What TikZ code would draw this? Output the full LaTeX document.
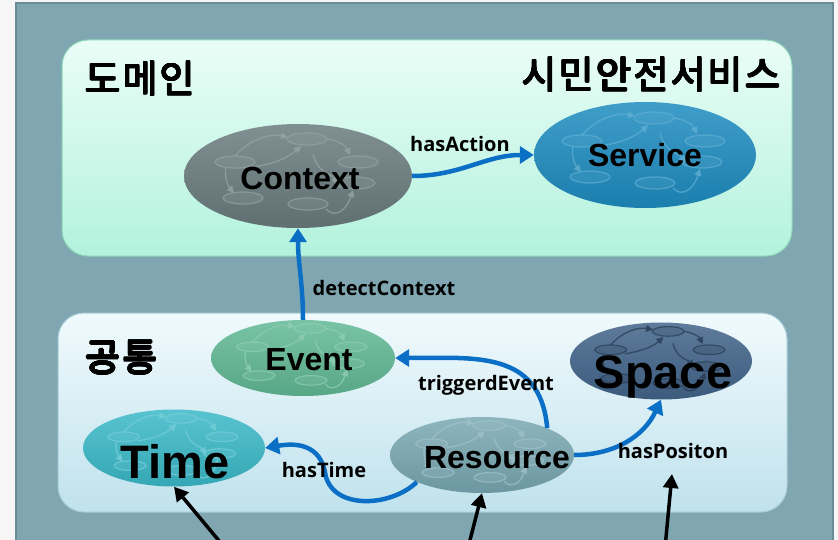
\documentclass[tikz,border=0pt]{standalone}
\usepackage{fontspec}
\usepackage{contour}
\setmainfont{Liberation Sans}
\newfontfamily\kofont{Noto Sans CJK KR}[LetterSpace=6]
\newfontfamily\relfont{Open Sans}
\contourlength{0.65pt}
\usetikzlibrary{positioning, arrows.meta, shapes.geometric, calc}
\definecolor{framecol}{HTML}{80A7B1}
\definecolor{frameline}{HTML}{678C95}
\definecolor{domtop}{HTML}{EAFDF7}
\definecolor{dombot}{HTML}{B3F2DD}
\definecolor{domline}{HTML}{8AD4B8}
\definecolor{comtop}{HTML}{F0FAFD}
\definecolor{combot}{HTML}{C0E2EC}
\definecolor{comline}{HTML}{A8CDD8}
\definecolor{linkblue}{HTML}{0B6FC6}
\definecolor{ctxcol}{HTML}{6A7C7E}
\definecolor{svccol}{HTML}{1E8CC0}
\definecolor{evtcol}{HTML}{61B995}
\definecolor{spccol}{HTML}{42648A}
\definecolor{timcol}{HTML}{3BB9C8}
\definecolor{rescol}{HTML}{79A8B2}

\tikzset{
  web/.pic={
    % small graph drawn inside each class
    \foreach \x/\y in {9/-37, -63/-14, 60/-14, -55/22, 10/28, 57/7}
      \draw[draw=#1, fill=#1, draw opacity=0.7, fill opacity=0.2, line width=1.2pt] (\x,\y) ellipse [x radius=20, y radius=6];
    \begin{scope}[draw=#1, fill=#1, opacity=0.7, line width=1.4pt, -{Triangle[length=7pt,width=7pt]}]
      \draw (-63,-20) .. controls (-45,-40) and (-25,-42) .. (-10,-39);
      \draw (28,-37) .. controls (40,-36) and (48,-30) .. (52,-21);
      \draw (-45,-9) .. controls (-25,-12) and (-10,-18) .. (3,-30);
      \draw (-72,-8) .. controls (-74,0) and (-70,10) .. (-64,17);
      \draw (28,33) .. controls (36,42) and (48,36) .. (55,14);
      \draw (15,-22) .. controls (20,-2) and (34,-2) .. (40,8);
    \end{scope}
  }
}

\begin{document}
\begin{tikzpicture}[x=1pt, y=-1pt, >=Triangle,
  cls/.style={ellipse, inner sep=0pt, draw=none},
  clstext/.style={anchor=base, font=\bfseries\fontsize{32}{32}\selectfont},
  bigtext/.style={anchor=base, font=\bfseries\fontsize{47}{47}\selectfont},
  rel/.style={font=\relfont\bfseries\fontsize{20}{20}\selectfont},
  title/.style={font=\kofont\fontsize{38}{38}\selectfont},
  conn/.style={line width=4.5pt, draw=linkblue, -{Triangle[length=14pt,width=17pt]}},
  feed/.style={line width=3.5pt, draw=black, -{Triangle[length=14pt,width=15pt]}}]

\useasboundingbox (0,0) rectangle (838,540);

% Fond
\fill[gray!7] (0,0) rectangle (838,540);
\fill[framecol, draw=frameline, line width=2pt] (16,3) rectangle (833,560);

% Domaine
\shade[top color=domtop, bottom color=dombot, rounded corners=26pt] (62,40) rectangle (792,256);
\draw[domline, line width=1pt, rounded corners=26pt] (62,40) rectangle (792,256);
\node[title, anchor=west] (domtitle) at (82,79) {\contour{black}{도메인}};
\node[title, anchor=east] (svctitle) at (784,75) {\contour{black}{시민안전서비스}};

% Commun
\shade[top color=comtop, bottom color=combot, rounded corners=26pt] (58,313) rectangle (787,512);
\draw[comline, line width=1pt, rounded corners=26pt] (58,313) rectangle (787,512);
\node[title, anchor=west] (comtitle) at (82,358) {\contour{black}{공통}};

% Classes
\node[cls, minimum width=228pt, minimum height=104pt, top color=ctxcol!85!white, bottom color=ctxcol!90!black] (ctx) at (298,176) {};
\node[cls, minimum width=222pt, minimum height=106pt, top color=svccol!85!white, bottom color=svccol!90!black] (svc) at (645,155) {};
\node[cls, minimum width=184pt, minimum height=76pt, top color=evtcol!85!white, bottom color=evtcol!90!black] (evt) at (303,358) {};
\node[cls, minimum width=182pt, minimum height=77pt, top color=spccol!85!white, bottom color=spccol!90!black] (spc) at (661,361) {};
\node[cls, minimum width=182pt, minimum height=77pt, top color=timcol!85!white, bottom color=timcol!90!black] (tim) at (174,448) {};
\node[cls, minimum width=184pt, minimum height=76pt, top color=rescol!85!white, bottom color=rescol!90!black] (res) at (482,455) {};

\pic at (ctx) {web=ctxcol!70!white};
\pic at (svc) {web=svccol!70!white};
\pic[scale=0.8] at (evt) {web=evtcol!70!white};
\pic[scale=0.8] at (spc) {web=spccol!60!black};
\pic[scale=0.8] at (tim) {web=timcol!70!white};
\pic[scale=0.8] at (res) {web=rescol!70!white};

\node[clstext] (ctxtxt) at (300,190) {Context};
\node[clstext] (svctxt) at (645,167) {Service};
\node[clstext] (evttxt) at (309,370) {Event};
\node[clstext] (restxt) at (497,468) {Resource};
\node[bigtext] (timtxt) at (175,478) {Time};
\node[bigtext] (spctxt) at (663,388) {Space};

% Relations
\draw[conn] (ctx.east) to[out=0, in=180] (svc.west);
\draw[conn] (evt.north) to[out=90, in=-90] (ctx.south);
\draw[conn] (res.north east) to[out=95, in=0, looseness=1.2] (evt.east);
\draw[conn] (res.south west) .. controls (390,508) and (330,510) .. (325,472)
  .. controls (320,447) and (300,442) .. (tim.east);
\draw[conn] (res.east) to[out=0, in=-115] (spc.south);

\node[rel] (hasaction) at (460,144) {hasAction};
\node[rel] (detect) at (384,288) {detectContext};
\node[rel] (trig) at (486,385) {triggerdEvent};
\node[rel] (hastime) at (324,470) {hasTime};
\node[rel] (haspos) at (673,451) {hasPositon};

% Entrees
\coordinate (timin) at (225,548);
\coordinate (resin) at (468,548);
\coordinate (posin) at (665,548);
\coordinate (posend) at (672,474);
\draw[feed] (timin) -- (tim.south);
\draw[feed] (resin) -- (res.south);
\draw[feed] (posin) -- (posend);

\end{tikzpicture}
\end{document}
